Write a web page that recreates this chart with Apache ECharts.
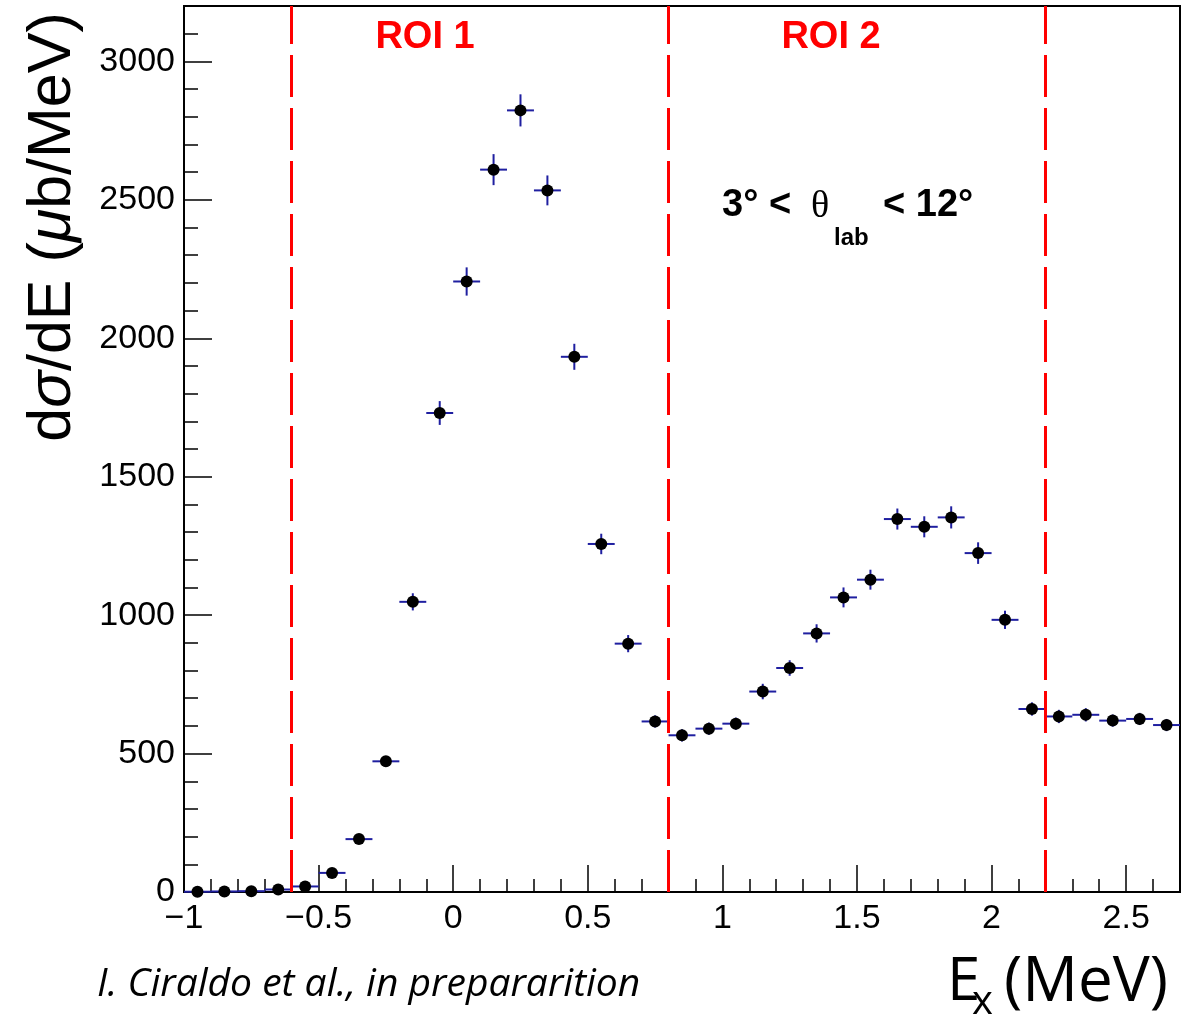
<!DOCTYPE html>
<html>
<head>
<meta charset="utf-8">
<script src="https://cdn.jsdelivr.net/npm/echarts@6/dist/echarts.min.js"></script>
<style>
  html, body { margin: 0; padding: 0; background: #ffffff; }
  #chart { width: 1186px; height: 1020px; }
</style>
</head>
<body>
<div id="chart"></div>
<script>
// Excitation-energy bin centres (MeV)
const binCenters = [
  -0.95, -0.85, -0.75, -0.65, -0.55, -0.45, -0.35, -0.25, -0.15, -0.05,
   0.05,  0.15,  0.25,  0.35,  0.45,  0.55,  0.65,  0.75,  0.85,  0.95,
   1.05,  1.15,  1.25,  1.35,  1.45,  1.55,  1.65,  1.75,  1.85,  1.95,
   2.05,  2.15,  2.25,  2.35,  2.45,  2.55,  2.65
];
// dσ/dE per bin (µb/MeV)
const crossSection = [
     1,    2,    3,    9,   20,   69,  191,  472, 1048, 1730,
  2205, 2609, 2823, 2534, 1933, 1257,  897,  616,  566,  590,
   608,  724,  809,  934, 1064, 1128, 1347, 1319, 1353, 1224,
   983,  661,  634,  640,  619,  625,  603
];
// statistical uncertainty per bin (µb/MeV)
const crossSectionErr = [
     1,    1,    2,    3,    4,    7,   12,   18,   31,   43,
    51,   56,   58,   54,   47,   37,   31,   22,   22,   22,
    22,   28,   28,   33,   36,   36,   38,   38,   40,   39,
    33,   24,   24,   24,   22,   22,   22
];
// half of the bin width (MeV)
const binHalfWidth = 0.05;
// boundaries of the regions of interest (MeV)
const roiEdges = [-0.6, 0.8, 2.2];
const roiNames = ['ROI 1', 'ROI 2'];

const points = binCenters.map((x, i) => [x, crossSection[i], crossSectionErr[i]]);

const withMinus = v => (v < 0 ? '\u2212' : '') + String(Math.abs(v));
const sansFont = '"Liberation Sans", Arial, Helvetica, sans-serif';
const textFont = '"Open Sans", "Noto Sans", sans-serif';

const chart = echarts.init(document.getElementById('chart'), null, { renderer: 'canvas' });

const option = {
  animation: false,
  backgroundColor: '#ffffff',
  grid: {
    left: 184, right: 6, top: 6, bottom: 128,
    show: true, borderColor: '#000', borderWidth: 2, backgroundColor: 'transparent'
  },
  xAxis: {
    type: 'value', min: -1, max: 2.7, interval: 0.5,
    axisLine: { onZero: false, lineStyle: { color: '#000', width: 2 } },
    axisTick: { inside: true, length: 27, lineStyle: { color: '#000', width: 1.5 } },
    minorTick: { show: true, splitNumber: 5, length: 13, lineStyle: { color: '#000', width: 1.5 } },
    splitLine: { show: false },
    axisLabel: {
      showMinLabel: true, showMaxLabel: false, margin: 10,
      fontFamily: sansFont, fontSize: 34, color: '#000', formatter: withMinus
    }
  },
  yAxis: {
    type: 'value', min: 0, max: 3200, interval: 500,
    axisLine: { onZero: false, lineStyle: { color: '#000', width: 2 } },
    axisTick: { inside: true, length: 28, lineStyle: { color: '#000', width: 1.5 } },
    minorTick: { show: true, splitNumber: 5, length: 14, lineStyle: { color: '#000', width: 1.5 } },
    splitLine: { show: false },
    axisLabel: {
      showMinLabel: true, showMaxLabel: false, margin: 9,
      fontFamily: sansFont, fontSize: 34, color: '#000',
      formatter: v => String(v)
    }
  },
  series: [
    {
      // horizontal (bin width) and vertical (uncertainty) error bars
      type: 'custom',
      z: 2,
      data: points,
      encode: { x: 0, y: 1 },
      renderItem: function (params, api) {
        const x = api.value(0), y = api.value(1), e = api.value(2);
        const l = api.coord([x - binHalfWidth, y]);
        const r = api.coord([x + binHalfWidth, y]);
        const t = api.coord([x, y + e]);
        const b = api.coord([x, y - e]);
        const style = { stroke: '#1f1fa0', lineWidth: 2 };
        return {
          type: 'group',
          children: [
            { type: 'line', shape: { x1: l[0], y1: l[1], x2: r[0], y2: r[1] }, style: style },
            { type: 'line', shape: { x1: t[0], y1: t[1], x2: b[0], y2: b[1] }, style: style }
          ]
        };
      }
    },
    {
      type: 'scatter',
      z: 3,
      data: points,
      encode: { x: 0, y: 1 },
      symbol: 'circle',
      symbolSize: 12,
      itemStyle: { color: '#000', opacity: 1 },
      markLine: {
        silent: true,
        symbol: ['none', 'none'],
        label: { show: false },
        lineStyle: { color: '#ff0000', width: 3, type: [42, 11] },
        data: roiEdges.map(v => ({ xAxis: v }))
      }
    }
  ],
  graphic: [
    // region labels
    { type: 'text', x: 425, y: 38, style: { text: roiNames[0], font: 'bold 38px ' + sansFont, fill: '#ff0000', align: 'center', verticalAlign: 'middle' } },
    { type: 'text', x: 831, y: 38, style: { text: roiNames[1], font: 'bold 38px ' + sansFont, fill: '#ff0000', align: 'center', verticalAlign: 'middle' } },
    // angular range
    { type: 'text', x: 722, y: 206, style: { text: '3\u00b0 <', font: 'bold 38px ' + sansFont, fill: '#000', align: 'left', verticalAlign: 'middle' } },
    { type: 'text', x: 811, y: 207, style: { text: '\u03b8', font: '38px "Liberation Serif", "Times New Roman", serif', fill: '#000', align: 'left', verticalAlign: 'middle' } },
    { type: 'text', x: 834, y: 238, style: { text: 'lab', font: 'bold 24px ' + sansFont, fill: '#000', align: 'left', verticalAlign: 'middle' } },
    { type: 'text', x: 883, y: 206, style: { text: '< 12\u00b0', font: 'bold 38px ' + sansFont, fill: '#000', align: 'left', verticalAlign: 'middle' } },
    // y-axis title
    {
      type: 'text', x: 53, y: 227, rotation: Math.PI / 2,
      style: {
        text: '{a|d}{g|\u03c3}{a|/dE (}{g|\u03bc}{a|b/MeV)}',
        align: 'center', verticalAlign: 'middle',
        rich: {
          a: { fontFamily: sansFont, fontSize: 61, fill: '#000' },
          g: { fontFamily: sansFont, fontSize: 61, fontStyle: 'italic', fill: '#000' }
        }
      }
    },
    // x-axis title
    { type: 'text', x: 947, y: 983, style: { text: 'E', font: '60px ' + textFont, fill: '#000', align: 'left', verticalAlign: 'middle' } },
    { type: 'text', x: 972, y: 1003, style: { text: 'x', font: '40px ' + textFont, fill: '#000', align: 'left', verticalAlign: 'middle' } },
    { type: 'text', x: 1168, y: 983, style: { text: '(MeV)', font: '62px ' + textFont, fill: '#000', align: 'right', verticalAlign: 'middle' } },
    // credit line
    { type: 'text', x: 97, y: 985, style: { text: 'I. Ciraldo et al., in prepararition', font: 'italic 39px ' + textFont, fill: '#000', align: 'left', verticalAlign: 'middle' } }
  ]
};

chart.setOption(option);
</script>
</body>
</html>
